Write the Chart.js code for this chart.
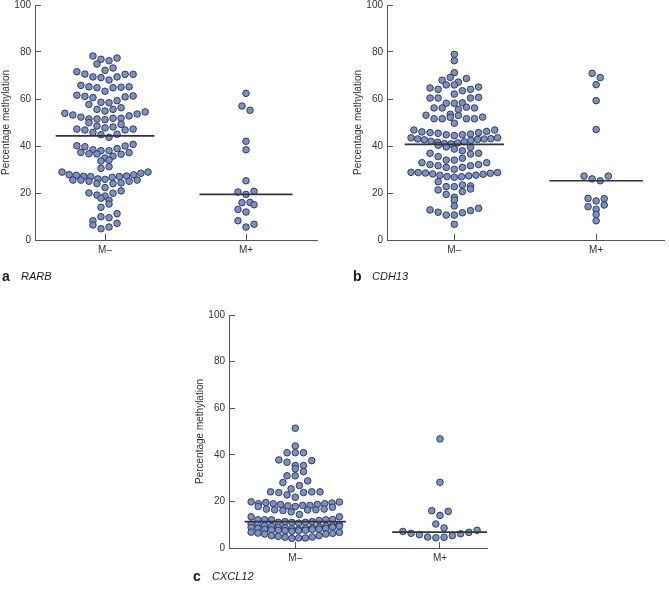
<!DOCTYPE html>
<html>
<head>
<meta charset="utf-8">
<script src="https://cdn.jsdelivr.net/npm/chart.js@4.4.1/dist/chart.umd.min.js"></script>
<style>
  html, body { margin: 0; padding: 0; background: #fff; }
  #page { position: relative; width: 669px; height: 589px; overflow: hidden; }
  canvas { position: absolute; left: 0; top: 0; }
  .tag { position: absolute; font-family: 'Liberation Sans', Arial, sans-serif; color: #1a1a1a; line-height: 1; white-space: nowrap; }
  .letter { font-size: 14px; font-weight: bold; }
  .gene { font-size: 11px; font-style: italic; }
</style>
</head>
<body>
<div id="page">
  <canvas id="chart-rarb" width="669" height="589"></canvas>
  <canvas id="chart-cdh13" width="669" height="589"></canvas>
  <canvas id="chart-cxcl12" width="669" height="589"></canvas>

  <span class="tag letter" style="left:2px; top:269px">a</span>
  <span class="tag gene" style="left:21px; top:271px">RARB</span>
  <span class="tag letter" style="left:353px; top:269px">b</span>
  <span class="tag gene" style="left:372px; top:271px">CDH13</span>
  <span class="tag letter" style="left:193px; top:569px">c</span>
  <span class="tag gene" style="left:212px; top:571px">CXCL12</span>
</div>
<script>
'use strict'

// ------------------------------------------------------------
// DONNEES : % de methylation, lues ligne par ligne dans le nuage
// (chaque sous-tableau = une rangee de points du beeswarm)
// ------------------------------------------------------------
const CATEGORIES = ['M–', 'M+'] ;
const Y_TICKS = [0, 20, 40, 60, 80, 100] ;

const rarbNeg = [
    [78.3, 76.9, 76.3, 77.4],
    [74.9, 72.2, 73.2],
    [71.6, 70.6, 69.4, 69.1, 68.1, 69.4, 70.5, 70.5],
    [65.8, 65.2, 64.8, 63.3, 64.8, 65.0, 65.2],
    [61.6, 61.1, 60.6, 58.6, 58.4, 59.3, 60.9, 61.3],
    [57.7, 55.6, 54.9, 55.6, 56.3],
    [53.9, 53.2, 52.3, 51.5, 51.5, 51.2, 51.8, 51.8, 52.8, 53.6, 54.5],
    [49.9, 48.5, 47.7, 48.1, 49.2],
    [47.2, 46.8, 45.8, 44.8, 43.7, 45.0, 46.8, 47.2],
    [40.1, 39.7, 38.4, 38.0, 38.0, 38.9, 40.0, 40.7],
    [37.3, 36.7, 36.6, 34.9, 35.7, 36.5, 37.2],
    [33.6, 34.0],
    [30.5, 31.2],
    [28.9, 27.8, 27.5, 27.1, 27.0, 26.0, 25.8, 26.7, 27.0, 27.2, 27.7, 28.4, 28.9],
    [25.5, 25.5, 25.0, 24.0, 22.3, 24.0, 24.3, 25.0, 25.5],
    [20.0, 19.1, 18.7, 19.9, 20.9],
    [17.8, 16.9],
    [13.9, 15.3],
    [8.2, 9.9, 9.5, 11.2],
    [6.4, 4.8, 5.5, 7.1]
] ;
const rarbPos = [
    [62.4], [57.0, 55.2], [42.0], [38.4], [25.2],
    [20.4, 19.4, 20.7], [15.9, 16.0], [13.0, 11.9, 15.0], [8.2, 5.5, 6.7]
] ;
const rarbMedians = [44.3, 19.4] ;

const cdh13Neg = [
    [79.0],
    [76.3],
    [71.2],
    [68.0, 69.2, 67.2, 68.7],
    [64.7, 64.1, 66.0, 66.0, 63.5, 64.1, 65.1],
    [62.1],
    [60.4, 60.4, 58.2, 58.2, 58.4, 60.4, 60.7],
    [56.2, 56.2, 53.5, 55.6, 56.5, 56.2],
    [53.1, 51.6, 51.6, 52.2, 53.0, 51.6, 51.6, 52.3],
    [49.7],
    [46.8, 46.0, 45.7, 45.4, 44.8, 44.4, 44.8, 45.1, 45.7, 46.2, 46.8],
    [43.5, 43.0, 42.6, 42.0, 41.6, 41.0, 40.9, 41.3, 41.8, 42.4, 42.8, 43.0, 43.1, 43.5],
    [40.3, 39.6, 38.7, 38.0, 39.5],
    [36.9, 35.5, 34.0, 34.0, 34.8, 36.6, 36.9],
    [32.9, 32.1, 31.6, 30.9, 30.1, 30.9, 31.6, 32.1, 32.9],
    [28.8, 28.7, 28.5, 28.1, 27.5, 27.0, 26.7, 26.9, 27.3, 27.6, 28.0, 28.4, 28.7],
    [24.8, 22.7, 22.7, 23.4, 23.0],
    [21.3, 19.4, 18.2, 20.6, 21.7],
    [17.0],
    [14.5],
    [12.8, 11.8, 10.6, 10.6, 11.6, 12.5, 13.5],
    [6.7]
] ;
const cdh13Pos = [
    [70.9, 69.1], [66.1], [59.3], [47.0], [27.2, 26.0, 25.2, 27.2],
    [17.7, 16.6, 17.6], [14.2, 13.0, 14.9], [10.9], [8.2]
] ;
const cdh13Medians = [40.7, 25.2] ;

const cxcl12Neg = [
    [51.4],
    [43.8],
    [40.9, 40.9, 40.9],
    [37.8, 36.8, 35.4, 35.4, 37.5],
    [34.0],
    [31.0, 31.0, 32.8],
    [28.1, 25.4, 26.8, 28.8],
    [24.1, 23.8, 22.8, 21.8, 23.8, 24.1, 24.1],
    [19.8, 19.0, 19.5, 19.0, 18.7, 18.1, 17.8, 18.3, 18.3, 18.7, 19.0, 19.3, 19.7],
    [17.8, 16.7, 16.4, 16.1, 15.5, 14.4, 16.3, 16.4, 16.7, 17.5],
    [13.4, 12.1, 12.1, 12.1, 11.0, 11.3, 11.0, 10.7, 11.0, 11.3, 11.8, 12.1, 12.2, 13.4],
    [10.3, 10.1, 9.6, 9.3, 8.9, 8.7, 8.3, 8.0, 8.5, 8.6, 9.0, 9.4, 9.7, 10.1],
    [8.8, 8.4, 8.0, 7.8, 7.6, 7.4, 7.2, 7.4, 7.6, 7.9, 8.1, 8.4, 8.9, 9.3],
    [6.8, 6.4, 6.0, 5.3, 5.0, 4.6, 4.1, 4.3, 4.3, 4.7, 5.3, 6.0, 6.3, 6.7]
] ;
const cxcl12Pos = [
    [46.8], [28.2], [16.0, 14.0, 15.7], [10.3, 8.6],
    [7.1, 6.3, 5.7, 4.7, 4.4, 4.6, 5.3, 6.1, 6.7, 7.6]
] ;
const cxcl12Medians = [11.3, 6.8] ;


// ------------------------------------------------------------
// STYLE
// ------------------------------------------------------------
const FONT = "'Liberation Sans', Arial, sans-serif" ;
const AXIS_COLOR = '#555' ;
const TEXT_COLOR = '#333' ;
const DOT_GAP = 0.057 ;      // ecart horizontal entre 2 points (unites x)
const MAX_SPAN = 0.61 ;      // largeur max d'une rangee
const MEDIAN_HALF = [0.35, 0.33] ;

Chart.defaults.font.family = FONT ;


// ------------------------------------------------------------
// Place les points d'une rangee cote a cote, centres sur la categorie
// ------------------------------------------------------------
function swarm(rows, center) {
    const pts = [] ;
    rows.forEach(row => {
        const n = row.length ;
        const gap = n > 1 ? Math.min(DOT_GAP, MAX_SPAN / (n - 1)) : 0 ;
        row.forEach((v, i) => pts.push({ x: center + (i - (n - 1) / 2) * gap, y: v })) ;
    }) ;
    return pts ;
}

function dotSet(points) {
    return {
        data: points,
        pointRadius: 3.3,
        pointBackgroundColor: '#7b91c4',
        pointBorderColor: '#27314f',
        pointBorderWidth: 0.9,
        order: 1,
    } ;
}

function medianSet(value, i) {
    return {
        type: 'line',
        data: [{ x: i + 1 - MEDIAN_HALF[i], y: value }, { x: i + 1 + MEDIAN_HALF[i], y: value }],
        borderColor: '#333',
        borderWidth: 1.6,
        pointRadius: 0,
        order: 0,
    } ;
}


// ------------------------------------------------------------
// Un panneau = un graphique scatter (M- / M+) avec les medianes
// ------------------------------------------------------------
function renderPanel(id, padding, xMin, xMax, neg, pos, medians) {
    const ctx = document.getElementById(id) ;
    if (!ctx) return ;

    new Chart(ctx, {
        type: 'scatter',
        data: {
            datasets: [
                dotSet(swarm(neg, 1)),
                dotSet(swarm(pos, 2)),
                ...medians.map(medianSet),
            ]
        },
        options: {
            responsive: false,
            animation: false,
            layout: { padding },
            plugins: {
                legend: { display: false },
                tooltip: { enabled: false },
            },
            scales: {
                x: {
                    type: 'linear',
                    min: xMin,
                    max: xMax,
                    afterBuildTicks: s => { s.ticks = CATEGORIES.map((c, i) => ({ value: i + 1 })) ; },
                    afterFit: s => {
                        s.height = 25 ;
                        s.paddingLeft = 0 ;
                        s.paddingRight = 0 ;
                    },
                    ticks: {
                        callback: v => CATEGORIES[Math.round(v) - 1],
                        color: TEXT_COLOR,
                        font: { size: 10 },
                        padding: 10,
                        autoSkip: false,
                        maxRotation: 0,
                    },
                    grid: { drawOnChartArea: false, tickLength: -6, color: AXIS_COLOR },
                    border: { color: AXIS_COLOR, width: 1 },
                },
                y: {
                    min: Y_TICKS[0],
                    max: Y_TICKS[Y_TICKS.length - 1],
                    afterFit: s => {
                        // largeur fixe + on retire la marge ajoutee par ticks.padding
                        s.width = 35 ;
                        s.paddingTop = 5 ;
                        s.paddingBottom = 5 ;
                    },
                    ticks: {
                        stepSize: Y_TICKS[1] - Y_TICKS[0],
                        color: TEXT_COLOR,
                        font: { size: 10, lineHeight: 1 },
                        padding: 10,
                    },
                    grid: { drawOnChartArea: false, tickLength: -6, color: AXIS_COLOR },
                    border: { color: AXIS_COLOR, width: 1 },
                    title: {
                        display: true,
                        text: 'Percentage methylation',
                        color: TEXT_COLOR,
                        font: { size: 10 },
                        padding: 0,
                    },
                }
            }
        }
    }) ;
}

renderPanel('chart-rarb',   { left: 0,   top: 5,   right: 352, bottom: 324 }, 0.5035, 2.5035, rarbNeg,   rarbPos,   rarbMedians) ;
renderPanel('chart-cdh13',  { left: 352, top: 5,   right: 2,   bottom: 324 }, 0.5255, 2.479,  cdh13Neg,  cdh13Pos,  cdh13Medians) ;
renderPanel('chart-cxcl12', { left: 194, top: 315, right: 182, bottom: 16  }, 0.542,  2.325,  cxcl12Neg, cxcl12Pos, cxcl12Medians) ;
</script>
</body>
</html>
